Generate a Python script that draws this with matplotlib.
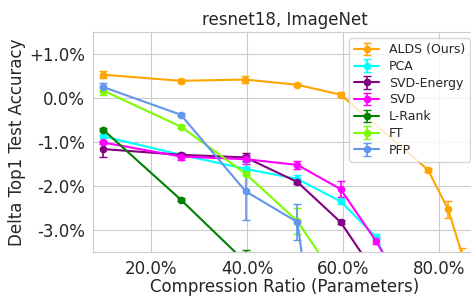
import matplotlib
matplotlib.use('Agg')
import matplotlib.pyplot as plt
import seaborn as sns
from matplotlib.ticker import FuncFormatter

# Data (compression ratio %, delta top1 acc %, error)
alds_x = [10.0, 26.2, 39.6, 50.5, 59.5, 77.7, 81.9, 84.9]
alds_y = [0.53, 0.39, 0.42, 0.30, 0.075, -1.63, -2.53, -3.58]
alds_e = [0.08, 0.04, 0.09, 0.03, 0.06, 0.04, 0.20, 0.17]

pca_x = [10.0, 26.2, 39.7, 50.5, 59.5, 66.8, 77.7]
pca_y = [-0.87, -1.29, -1.61, -1.84, -2.35, -3.15, -5.75]
pca_e = [0.04, 0.04, 0.04, 0.08, 0.05, 0.06, 0.10]

svde_x = [10.0, 26.2, 39.7, 50.5, 59.5, 66.8]
svde_y = [-1.16, -1.29, -1.35, -1.91, -2.82, -4.0]
svde_e = [0.17, 0.04, 0.09, 0.05, 0.05, 0.10]

svd_x = [10.0, 26.2, 39.7, 50.5, 59.5, 66.8, 77.7]
svd_y = [-1.01, -1.33, -1.39, -1.52, -2.07, -3.24, -5.27]
svd_e = [0.04, 0.07, 0.10, 0.10, 0.18, 0.08, 0.10]

lrank_x = [10.0, 26.2, 39.7]
lrank_y = [-0.72, -2.31, -3.73]
lrank_e = [0.04, 0.03, 0.28]

ft_x = [10.0, 26.2, 39.7, 50.5, 59.5]
ft_y = [0.17, -0.65, -1.72, -2.80, -4.25]
ft_e = [0.11, 0.03, 0.04, 0.30, 0.10]

pfp_x = [10.0, 26.2, 39.7, 50.5, 59.5]
pfp_y = [0.25, -0.38, -2.12, -2.82, -10.0]
pfp_e = [0.10, 0.03, 0.66, 0.41, 0.10]

series = [
    ("ALDS (Ours)", alds_x, alds_y, alds_e, "orange"),
    ("PCA", pca_x, pca_y, pca_e, "cyan"),
    ("SVD-Energy", svde_x, svde_y, svde_e, "purple"),
    ("SVD", svd_x, svd_y, svd_e, "magenta"),
    ("L-Rank", lrank_x, lrank_y, lrank_e, "green"),
    ("FT", ft_x, ft_y, ft_e, "lawngreen"),
    ("PFP", pfp_x, pfp_y, pfp_e, "cornflowerblue"),
]

sns.set_style("whitegrid")
plt.rcParams['font.family'] = ['DejaVu Sans']

fig = plt.figure(figsize=(4.71, 2.99), dpi=100)
# the right edge of the axes runs a little past the figure, as in the reference
ax = fig.add_axes([0.197, 0.157, 0.815, 0.736])

for label, x, y, e, c in series:
    ax.errorbar(x, y, yerr=e, label=label, color=c, marker='o',
                markersize=4.5, linewidth=1.5, capsize=3, elinewidth=1.2)

ax.set_xlim(7.85, 87.85)
ax.set_ylim(-3.5, 1.5)
ax.set_xticks([20, 40, 60, 80])
ax.set_yticks([1, 0, -1, -2, -3])
ax.xaxis.set_major_formatter(FuncFormatter(lambda v, p: f"{v:.1f}%"))
ax.yaxis.set_major_formatter(
    FuncFormatter(lambda v, p: f"+{v:.1f}%" if v > 0 else f"{v:.1f}%"))
ax.tick_params(labelsize=12, pad=2)

ax.set_title("resnet18, ImageNet", fontsize=12, pad=5)
ax.set_xlabel("Compression Ratio (Parameters)", fontsize=12, labelpad=0)
ax.set_ylabel("Delta Top1 Test Accuracy", fontsize=12, labelpad=2)

ax.legend(loc='upper right', fontsize=9, labelspacing=0.3,
          borderaxespad=0.5, frameon=True)

fig.savefig("out.png", dpi=100)
